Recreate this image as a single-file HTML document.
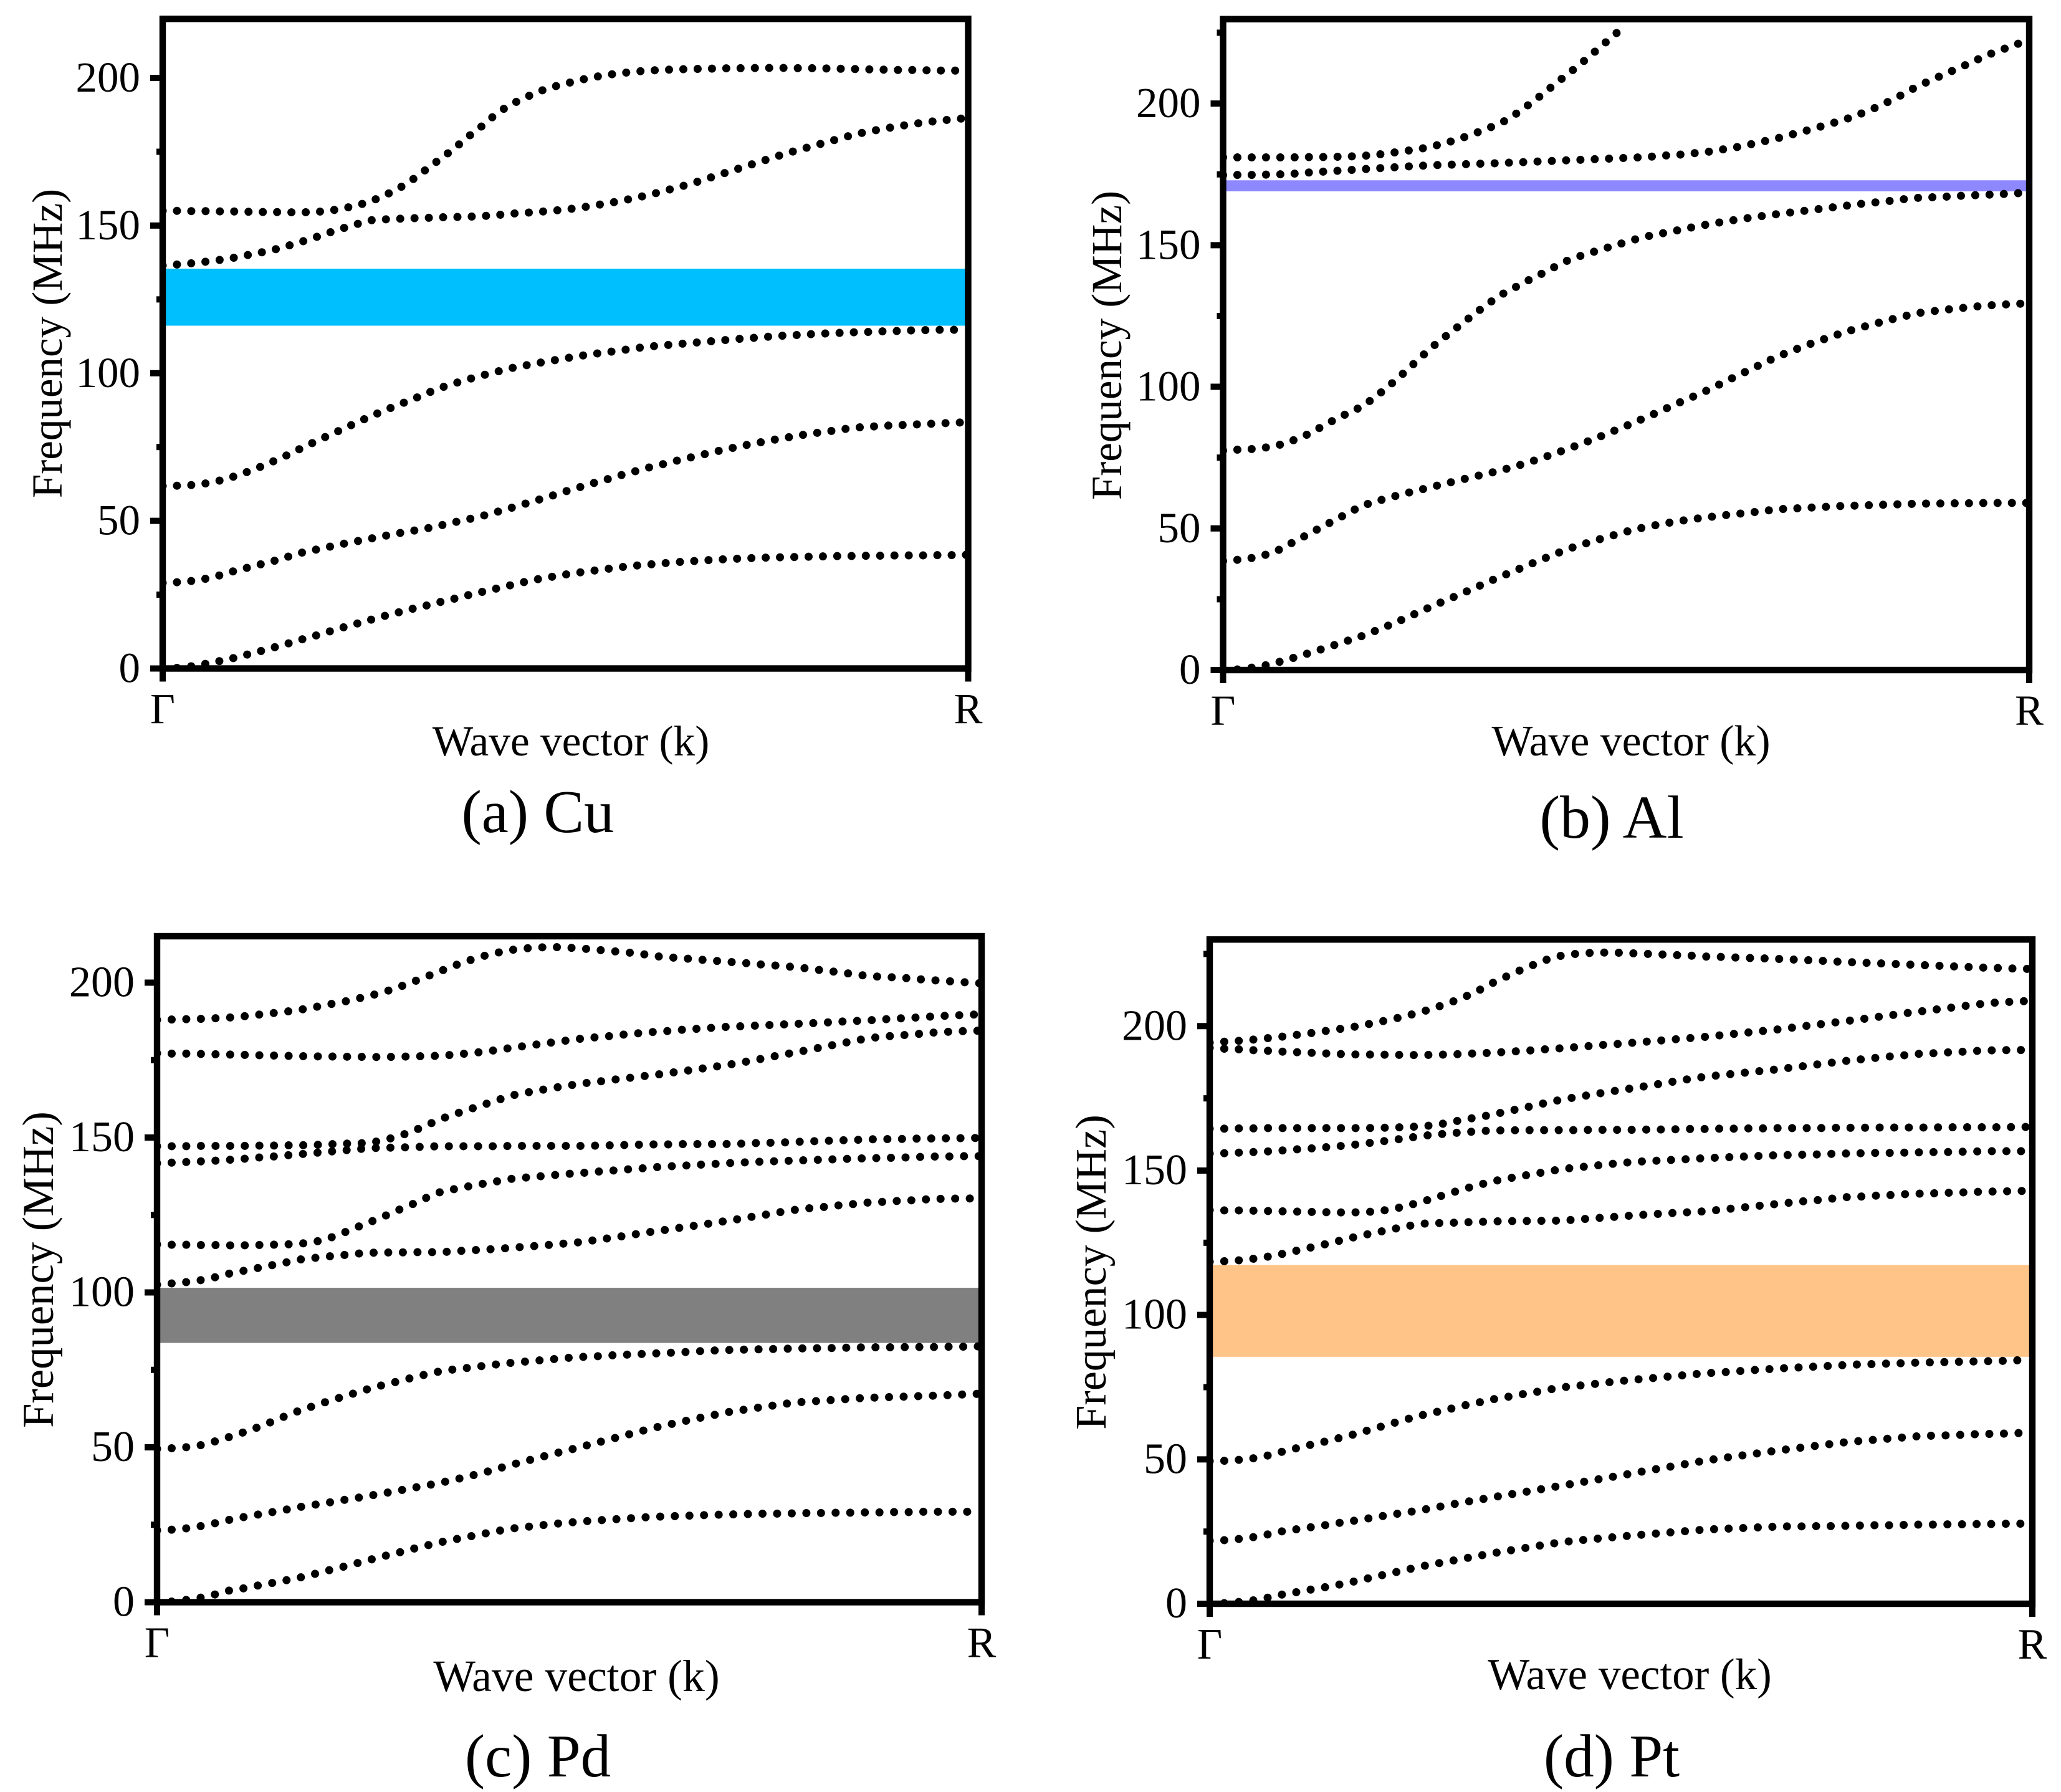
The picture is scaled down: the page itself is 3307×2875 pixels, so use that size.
<!DOCTYPE html>
<html lang="en">
<head>
<meta charset="utf-8">
<title>Frequency band structures of Cu, Al, Pd and Pt</title>
<style>
html,body{margin:0;padding:0;background:#fff;}
svg{display:block;}
text{font-family:"Liberation Serif","DejaVu Serif",serif;fill:#000;}
</style>
</head>
<body>
<svg id="figure" xmlns="http://www.w3.org/2000/svg" width="3307" height="2875" viewBox="0 0 3307 2875">
  <rect width="3307" height="2875" fill="#fff"/>
  <g id="panel-cu">
    <text transform="translate(99,551) rotate(-90)" text-anchor="middle" font-size="69">Frequency (MHz)</text>
    <text x="916" y="1212" text-anchor="middle" font-size="69.3">Wave vector (k)</text>
    <text x="863" y="1335" text-anchor="middle" font-size="97">(a) Cu</text>
  </g>
  <g id="panel-al">
    <text transform="translate(1799,554) rotate(-90)" text-anchor="middle" font-size="69">Frequency (MHz)</text>
    <text x="2617" y="1212" text-anchor="middle" font-size="69.7">Wave vector (k)</text>
    <text x="2586" y="1344" text-anchor="middle" font-size="98">(b) Al</text>
  </g>
  <g id="panel-pd">
    <text transform="translate(85,2037) rotate(-90)" text-anchor="middle" font-size="70.6">Frequency (MHz)</text>
    <text x="925" y="2713" text-anchor="middle" font-size="71.6">Wave vector (k)</text>
    <text x="863" y="2850" text-anchor="middle" font-size="97">(c) Pd</text>
  </g>
  <g id="panel-pt">
    <text transform="translate(1774,2041) rotate(-90)" text-anchor="middle" font-size="70.3">Frequency (MHz)</text>
    <text x="2615" y="2710" text-anchor="middle" font-size="71">Wave vector (k)</text>
    <text x="2586" y="2850" text-anchor="middle" font-size="97">(d) Pt</text>
  </g>
</svg>
<script>
const xTickLabels = ['Γ', 'R'];
const yTickValues = [0, 50, 100, 150, 200];
const cuMinorTicks = [25, 75, 125, 175];
const alMinorTicks = [25, 75, 125, 175, 225];
const pdMinorTicks = [25, 75, 125, 175];
const ptMinorTicks = [25, 75, 125, 175, 225];

const cuGap = [116.1, 135.4];
const alGap = [169, 172.9];
const pdGap = [83.7, 101.5];
const ptGap = [85.5, 117.3];

const cuBranch1 = [0,0.2,0.7,1.5,2.4,3.4,4.6,5.8,7.1,8.4,
 9.8,11.1,12.5,13.9,15.2,16.5,17.8,19,20.2,21.3,
 22.5,23.6,24.8,25.9,27,28.1,29.2,30.2,31,31.8,
 32.5,33.1,33.7,34.3,34.8,35.2,35.6,36,36.3,36.6,
 36.9,37.1,37.3,37.5,37.6,37.7,37.8,37.9,38,38.1,
 38.1,38.2,38.2,38.3,38.3,38.3,38.4,38.4,38.5];
const cuBranch2 = [29,29.2,29.6,30.3,31.4,32.8,34,35.2,36.4,37.8,
 39.2,40.2,41.2,42.2,43.1,44,44.9,45.8,46.6,47.4,
 48.4,49.5,50.5,51.6,52.9,54.2,55.6,57,58.4,59.9,
 61.3,62.7,64,65.4,66.7,68,69.1,70.3,71.4,72.5,
 73.6,74.6,75.6,76.5,77.4,78.2,79,79.7,80.3,81,
 81.6,81.9,82.2,82.4,82.6,82.8,83,83.2,83.4];
const cuBranch3 = [61.8,61.9,62.1,62.6,63.5,64.8,66.4,68.2,70.2,72.3,
 74.6,76.8,79,81.1,83.3,85.4,87.4,89.3,91.1,93.1,
 95,96.5,97.9,99.2,100.4,101.6,102.5,103.4,104.2,105,
 105.8,106.5,107.1,107.7,108.4,109,109.4,109.8,110.2,110.6,
 111,111.4,111.8,112.1,112.5,112.8,113,113.3,113.5,113.7,
 113.9,114,114.2,114.3,114.5,114.6,114.7,114.7,114.8];
const cuBranch4 = [136.5,136.8,137.2,137.7,138.3,139,139.9,140.8,141.8,143.1,
 144.5,146,147.6,149.1,150.5,151.8,152.1,152.3,152.5,152.6,
 152.8,152.9,153,153.2,153.5,154,154.3,154.6,155,155.4,
 156,156.7,157.5,158.3,159.3,160.3,161.5,162.8,164,165.5,
 167,168.5,170,171.5,173,174.5,175.8,177.1,178.4,179.7,
 181,181.9,182.8,183.6,184.3,185,185.5,186,186.4];
const cuBranch5 = [155,155,154.9,154.9,154.8,154.8,154.7,154.6,154.6,154.5,
 154.5,154.6,155,155.8,156.8,158.2,160.2,162.5,165.5,169,
 172.5,176,180,183.6,187.6,190.8,193,195.2,196.8,198,
 199.2,200.2,201,201.6,202.1,202.5,202.7,202.9,203,203.1,
 203.2,203.3,203.3,203.4,203.4,203.4,203.3,203.3,203.2,203.1,
 203,202.9,202.8,202.7,202.7,202.6,202.5,202.5,202.4];

const alBranch1 = [0,0.2,0.8,1.6,2.8,4.2,5.7,7.2,8.8,10.4,
 12,13.9,15.9,18,20.2,22.4,24.5,26.6,28.7,30.9,
 33,35,37.1,39.1,41.1,43,44.5,46,47.4,48.8,
 50,51,51.9,52.7,53.4,54,54.6,55.1,55.6,56.2,
 56.8,57,57.3,57.5,57.8,58,58.1,58.3,58.4,58.6,
 58.7,58.8,58.8,58.9,58.9,59,59,59,59];
const alBranch2 = [38.5,38.9,39.5,40.6,42.4,45,47.6,50.2,52.8,55.4,
 58,59.5,60.9,62.2,63.4,64.6,65.8,67,68.2,69.3,
 70.5,71.8,73.3,74.9,76.6,78.4,80.2,82.1,84.1,86.1,
 88.2,90.3,92.5,94.7,96.8,99,101.4,103.8,106.1,108.5,
 110.8,112.7,114.6,116.3,118,119.6,121,122.3,123.6,124.8,
 126,126.6,127.2,127.7,128.2,128.7,129,129.2,129.5];
const alBranch3 = [77.5,77.8,78,78.5,79.4,81,83,85.6,88.3,90.7,
 93,96.5,100.5,104.8,109.3,113.8,117.7,121.5,125.3,129,
 132.4,135,137.6,140,142.6,145,146.6,148.1,149.6,151,
 152.5,153.6,154.5,155.5,156.5,157.4,158.2,159,159.7,160.4,
 161,161.6,162.2,162.8,163.4,164,164.6,165.1,165.6,166.2,
 166.7,166.9,167.1,167.4,167.6,167.8,168,168.3,168.5];
const alBranch4 = [174.7,174.8,174.8,174.9,175,175.2,175.6,175.9,176.2,176.5,
 176.8,177.1,177.4,177.7,178,178.2,178.4,178.5,178.7,178.8,
 179,179.2,179.4,179.6,179.8,180,180.2,180.4,180.6,180.8,
 181,181.3,181.7,182,182.5,183,183.8,184.6,185.6,186.7,
 187.8,189.1,190.4,191.8,193.2,194.7,196.5,198.5,200.8,203.3,
 206,208.2,210.4,212.5,214.7,217,218.8,220.6,222.4];
const alBranch5 = [181,181,181,181,181,181,181.1,181.1,181.2,181.3,
 181.5,181.9,182.5,183.2,183.8,184.8,186,187.5,189.2,191.1,
 193,196,199.5,203.2,207.2,211,215,219.2,223.4,227.6];

const pdBranch1 = [0,0.2,0.7,1.4,2.4,3.7,4.4,5.3,6.1,7,
 7.9,9,10.2,11.3,12.5,13.7,14.9,16,17.2,18.3,
 19.4,20.3,21.2,22.1,23,23.8,24.3,24.8,25.3,25.7,
 26.1,26.4,26.7,27,27.3,27.6,27.7,27.9,28,28.2,
 28.3,28.4,28.5,28.6,28.6,28.7,28.8,28.8,28.9,28.9,
 29,29,29.1,29.1,29.2,29.2,29.2,29.2,29.2];
const pdBranch2 = [23.2,23.4,23.8,24.5,25.4,26.5,27.4,28.2,29,29.8,
 30.7,31.4,32.1,32.9,33.6,34.4,35.2,36,36.9,37.7,
 38.6,39.6,40.7,41.8,43.1,44.4,45.6,46.8,48,49.1,
 50.3,51.5,52.7,53.9,55.1,56.3,57.3,58.3,59.3,60.2,
 61.2,61.9,62.6,63.2,63.9,64.5,64.8,65.1,65.4,65.7,
 66,66.1,66.3,66.4,66.6,66.7,66.9,67.1,67.3];
const pdBranch3 = [49.5,49.7,50,50.6,51.8,53.2,54.7,56.3,58.1,60,
 61.8,63.3,64.8,66.2,67.6,69,70.2,71.3,72.5,73.6,
 74.6,75.2,75.7,76.3,76.8,77.3,77.7,78.1,78.5,78.9,
 79.2,79.4,79.7,79.9,80.1,80.3,80.5,80.7,81,81.2,
 81.4,81.5,81.6,81.7,81.8,81.9,82,82,82.1,82.2,
 82.3,82.3,82.3,82.4,82.4,82.4,82.5,82.5,82.6];
const pdBranch4 = [102.5,102.9,103.3,103.9,104.8,106,106.9,107.8,108.7,109.6,
 110.6,111.1,111.6,112,112.5,112.8,112.9,112.9,113,113,
 113,113.3,113.6,113.8,114.1,114.4,114.8,115.1,115.5,115.9,
 116.3,117,117.6,118.3,119,119.7,120.3,121,121.6,122.3,
 123,123.7,124.5,125.2,126,126.7,127.2,127.6,128.1,128.5,
 129,129.2,129.5,129.7,130,130.2,130.3,130.3,130.4];
const pdBranch5 = [115.5,115.4,115.4,115.3,115.3,115.2,115.2,115.3,115.4,115.5,
 115.7,116.2,117.3,119,120.9,122.7,124.6,126.6,128.5,130.6,
 132.5,133.4,134.3,135.1,135.9,136.7,137.1,137.5,137.9,138.3,
 138.6,139,139.3,139.7,140,140.4,140.7,140.9,141.2,141.4,
 141.7,141.9,142.1,142.3,142.4,142.6,142.7,142.9,143,143.2,
 143.3,143.4,143.5,143.6,143.8,143.9,143.9,144,144];
const pdBranch6 = [141.7,141.9,142.1,142.3,142.5,142.8,143.1,143.5,143.8,144.2,
 144.6,145,145.4,145.8,146.2,146.6,146.7,146.8,146.9,147.1,
 147.2,147.2,147.2,147.2,147.2,147.3,147.3,147.3,147.3,147.3,
 147.3,147.4,147.5,147.6,147.7,147.8,147.8,147.9,147.9,147.9,
 147.9,148,148.2,148.3,148.4,148.6,148.8,148.9,149.1,149.2,
 149.4,149.5,149.5,149.6,149.7,149.7,149.8,149.8,149.9];
const pdBranch7 = [147.2,147.2,147.2,147.3,147.3,147.3,147.3,147.4,147.4,147.5,
 147.5,147.6,147.8,148,148.1,148.3,149.2,150.4,152,154,
 156,157.6,159.1,160.6,162.1,163.6,164.5,165.3,166.1,166.8,
 167.5,168,168.6,169.1,169.7,170.2,170.8,171.4,172,172.7,
 173.3,174.1,174.9,175.8,176.7,177.5,178.4,179.3,180.2,181.1,
 182,182.5,182.9,183.2,183.6,184,184.2,184.4,184.5];
const pdBranch8 = [177.2,177.1,177.1,177,176.9,176.8,176.7,176.6,176.5,176.4,
 176.3,176.2,176.2,176.1,176.1,176,176,176.1,176.2,176.3,
 176.4,176.8,177.2,177.7,178.3,179,179.6,180.2,180.8,181.4,
 182,182.4,182.8,183.3,183.7,184.1,184.4,184.8,185.1,185.4,
 185.7,185.9,186.1,186.3,186.5,186.7,186.9,187.1,187.4,187.6,
 187.8,188.1,188.4,188.6,188.9,189.2,189.4,189.6,189.8];
const pdBranch9 = [188,188.1,188.2,188.3,188.5,188.7,189.1,189.6,190.1,190.6,
 191.2,192,192.9,193.7,194.7,195.8,197,198.5,200.2,202,
 203.8,205.6,207.2,208.6,209.7,210.6,211.1,211.4,211.5,211.3,
 211,210.6,210.2,209.8,209.4,208.6,208.2,207.9,207.5,207.2,
 206.8,206.5,206.1,205.7,205.4,205,204.5,203.9,203.4,202.8,
 202.2,201.9,201.7,201.4,201,200.7,200.4,200.1,199.8];

const ptBranch1 = [0,0.2,0.6,1.1,2,3.1,3.9,4.8,5.6,6.5,
 7.5,8.6,9.7,10.8,11.9,13,13.9,14.8,15.7,16.6,
 17.5,18.3,19.1,19.9,20.7,21.4,21.9,22.4,22.8,23.3,
 23.7,24.1,24.5,24.9,25.3,25.7,25.9,26.1,26.3,26.5,
 26.7,26.8,26.8,26.9,26.9,27,27.1,27.2,27.2,27.3,
 27.4,27.4,27.5,27.5,27.6,27.6,27.7,27.7,27.8];
const ptBranch2 = [21.8,22,22.4,23,23.9,25,25.7,26.4,27.1,27.9,
 28.6,29.4,30.2,31,31.7,32.5,33.4,34.3,35.2,36,
 36.9,37.7,38.5,39.3,40.2,41,41.9,42.7,43.6,44.4,
 45.3,46.2,47,47.9,48.7,49.6,50.3,51,51.6,52.3,
 53,53.6,54.2,54.8,55.4,56,56.4,56.8,57.2,57.6,
 58,58.2,58.3,58.5,58.7,58.8,58.9,59.1,59.2];
const ptBranch3 = [49.4,49.5,49.8,50.3,51.2,52.5,53.7,54.9,56,57.2,
 58.4,59.8,61.2,62.6,64,65.3,66.4,67.5,68.7,69.7,
 70.8,71.6,72.5,73.3,74.2,75,75.5,76,76.6,77.1,
 77.6,78,78.5,78.9,79.4,79.8,80.1,80.4,80.8,81.1,
 81.4,81.7,81.9,82.2,82.4,82.7,82.9,83,83.2,83.3,
 83.5,83.6,83.7,83.8,83.9,84,84.1,84.3,84.5];
const ptBranch4 = [118.4,118.6,118.9,119.4,120.1,121,122.1,123.2,124.3,125.5,
 126.7,127.8,128.8,129.8,130.8,131.6,131.8,131.9,132.1,132.2,
 132.4,132.5,132.5,132.6,132.6,132.7,133.1,133.4,133.8,134.1,
 134.5,134.8,135.1,135.4,135.6,135.9,136.4,136.9,137.4,137.9,
 138.4,138.9,139.4,139.8,140.3,140.8,141,141.3,141.5,141.8,
 142,142.1,142.3,142.4,142.6,142.7,142.8,142.9,143];
const ptBranch5 = [136.3,136.2,136.2,136.1,136,135.9,135.8,135.7,135.6,135.5,
 135.5,135.6,136,136.7,137.9,139.2,140.7,142.2,143.7,145,
 146.3,147.2,148.1,148.9,149.8,150.6,151.1,151.6,152.1,152.6,
 153,153.3,153.5,153.8,154,154.3,154.5,154.7,154.9,155.1,
 155.3,155.4,155.5,155.6,155.8,155.9,156,156.1,156.1,156.2,
 156.3,156.4,156.4,156.5,156.6,156.7,156.7,156.7,156.7];
const ptBranch6 = [155.9,156,156.2,156.4,156.6,156.9,157.3,157.6,158,158.4,
 158.8,159.4,160,160.6,161.3,162,162.5,162.9,163.3,163.6,
 163.9,163.9,164,164,164,164,164,164.1,164.1,164.1,
 164.1,164.2,164.2,164.3,164.4,164.4,164.5,164.5,164.6,164.6,
 164.7,164.7,164.7,164.7,164.8,164.8,164.8,164.9,164.9,164.9,
 164.9,164.9,165,165,165,165,165,165.1,165.1];
const ptBranch7 = [164.5,164.5,164.6,164.6,164.7,164.7,164.7,164.7,164.7,164.7,
 164.7,164.7,164.8,164.9,165.1,165.3,165.8,166.7,167.7,168.5,
 169.4,170.5,171.5,172.6,173.7,174.7,175.5,176.3,177.1,177.9,
 178.6,179.4,180.2,181,181.8,182.5,183,183.5,184,184.5,
 185,185.6,186.2,186.8,187.4,188,188.5,189,189.5,189.9,
 190.4,190.6,190.9,191.1,191.4,191.6,191.7,191.7,191.8];
const ptBranch8 = [192.5,192.2,192,191.7,191.5,191.2,191,190.8,190.6,190.4,
 190.2,190.2,190.1,190.1,190,190,190.1,190.2,190.4,190.6,
 190.8,191.1,191.4,191.7,192.1,192.4,192.8,193.2,193.6,193.9,
 194.3,194.7,195.1,195.5,195.9,196.3,196.8,197.3,197.8,198.3,
 198.8,199.4,200,200.6,201.2,201.8,202.4,203.1,203.7,204.4,
 205,205.6,206.2,206.8,207.4,208,208.3,208.5,208.8];
const ptBranch9 = [194.3,194.6,194.9,195.3,195.8,196.3,196.9,197.5,198.2,198.9,
 199.6,200.5,201.5,202.5,203.7,205,206.5,208.2,210.1,212.4,
 215,217.3,219.5,221.5,223.4,224.6,225.1,225.4,225.5,225.4,
 225.2,225,224.8,224.6,224.4,224.1,224,223.8,223.6,223.5,
 223.3,223.1,222.9,222.7,222.4,222.2,222,221.8,221.6,221.4,
 221.2,221,220.8,220.6,220.4,220.2,220.1,219.9,219.8];

const cuBranches = [cuBranch1, cuBranch2, cuBranch3, cuBranch4, cuBranch5];
const alBranches = [alBranch1, alBranch2, alBranch3, alBranch4, alBranch5];
const pdBranches = [pdBranch1, pdBranch2, pdBranch3, pdBranch4, pdBranch5, pdBranch6, pdBranch7, pdBranch8, pdBranch9];
const ptBranches = [ptBranch1, ptBranch2, ptBranch3, ptBranch4, ptBranch5, ptBranch6, ptBranch7, ptBranch8, ptBranch9];

const SVG_NS = 'http://www.w3.org/2000/svg';
const INTERVALS = 58;

function mk(tag, attrs, parent) {
  const el = document.createElementNS(SVG_NS, tag);
  for (const k in attrs) el.setAttribute(k, attrs[k]);
  parent.appendChild(el);
  return el;
}

function drawPanel(cfg) {
  const root = document.getElementById(cfg.id);
  const xScale = i => cfg.x0 + (i / INTERVALS) * (cfg.x1 - cfg.x0 - 2);
  const yScale = v => cfg.yBottom - (v / cfg.yMax) * (cfg.yBottom - cfg.yTop);
  const clipId = cfg.id + '-clip';
  const clip = mk('clipPath', {id: clipId}, root);
  mk('rect', {x: cfg.x0, y: cfg.yTop, width: cfg.x1 - cfg.x0, height: cfg.yBottom - cfg.yTop}, clip);

  const band = mk('rect', {
    x: cfg.x0, width: cfg.x1 - cfg.x0,
    y: yScale(cfg.gap[1]), height: yScale(cfg.gap[0]) - yScale(cfg.gap[1]),
    fill: cfg.color
  }, root);
  
  

  cfg.branches.forEach((branch, b) => {
    const d = branch.map((v, i) => (i ? 'L' : 'M') + xScale(i).toFixed(2) + ' ' + yScale(v).toFixed(2)).join(' ');
    const line = mk('path', {
      d: d, fill: 'none', stroke: '#000', 'stroke-width': 13,
      'stroke-linecap': 'round', 'stroke-linejoin': 'round',
      'stroke-dasharray': '0.01 ' + cfg.dotGap,
      'clip-path': 'url(#' + clipId + ')'
    }, root);
    
    
  });

  const frame = mk('rect', {
    x: cfg.x0, y: cfg.yTop, width: cfg.x1 - cfg.x0, height: cfg.yBottom - cfg.yTop,
    fill: 'none', stroke: '#000', 'stroke-width': 10.4
  }, root);
  
  

  yTickValues.forEach(v => {
    const y = yScale(v);
    const tick = mk('line', {x1: cfg.x0 - 20, x2: cfg.x0, y1: y, y2: y, stroke: '#000', 'stroke-width': 10}, root);
    
    
    const label = mk('text', {x: cfg.x0 - 36, y: y + 22, 'text-anchor': 'end', 'font-size': cfg.fontSize}, root);
    label.textContent = String(v);
    
    
  });
  cfg.minor.forEach(v => {
    const y = yScale(v);
    const tick = mk('line', {x1: cfg.x0 - 10, x2: cfg.x0, y1: y, y2: y, stroke: '#000', 'stroke-width': 10}, root);
    
    
  });
  [cfg.x0, cfg.x1].forEach((x, i) => {
    const tick = mk('line', {x1: x, x2: x, y1: cfg.yBottom, y2: cfg.yBottom + 21, stroke: '#000', 'stroke-width': 10}, root);
    
    
    const label = mk('text', {x: x, y: cfg.yBottom + 88, 'text-anchor': 'middle', 'font-size': cfg.fontSize}, root);
    label.textContent = xTickLabels[i];
    
    
  });
}

drawPanel({id: 'panel-cu', name: 'cu', x0: 261, x1: 1553.5, yTop: 30.3, yBottom: 1072.5, yMax: 220, gap: cuGap, color: '#00BFFF', branches: cuBranches, minor: cuMinorTicks, fontSize: 69, dotGap: 22.95});
drawPanel({id: 'panel-al', name: 'al', x0: 1962.5, x1: 3256, yTop: 30.7, yBottom: 1075, yMax: 229.8, gap: alGap, color: '#8E88FF', branches: alBranches, minor: alMinorTicks, fontSize: 69, dotGap: 22.95});
drawPanel({id: 'panel-pd', name: 'pd', x0: 252, x1: 1575, yTop: 1502, yBottom: 2570.5, yMax: 215, gap: pdGap, color: '#808080', branches: pdBranches, minor: pdMinorTicks, fontSize: 70, dotGap: 23.45});
drawPanel({id: 'panel-pt', name: 'pt', x0: 1941, x1: 3261, yTop: 1507.3, yBottom: 2573, yMax: 230, gap: ptGap, color: '#FFC488', branches: ptBranches, minor: ptMinorTicks, fontSize: 70, dotGap: 23.4});
</script>
</body>
</html>
